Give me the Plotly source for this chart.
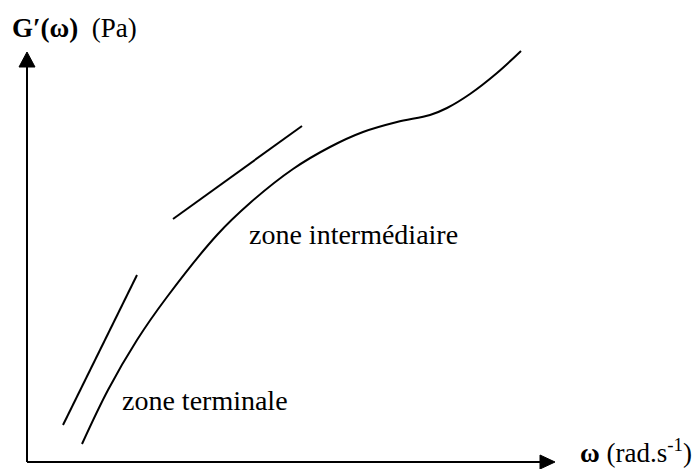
import plotly.graph_objects as go

# Schematic storage modulus G'(ω) versus ω (arbitrary log units, origin at axis corner)
curve_x = [55, 81, 110, 140, 190, 223, 266, 303, 336, 370, 403, 420, 443, 470, 494]
curve_y = [18, 72, 122, 165, 227, 259, 293, 315, 330, 340, 347, 354, 368, 389, 411]

# Slopes drawn next to the curve
terminal_x = [36, 110]
terminal_y = [37, 187]
intermediate_x = [146, 275]
intermediate_y = [243, 336]

# Axis extents
x_axis_end = 528
y_axis_end = 410

FONT = "Liberation Serif"
BLACK = "#000000"

fig = go.Figure()

# G'(ω) curve
fig.add_trace(go.Scatter(
    x=curve_x, y=curve_y, mode="lines",
    line=dict(color=BLACK, width=2, shape="spline", smoothing=1.0),
    hoverinfo="skip", showlegend=False))

# slope lines
for xs, ys in ((terminal_x, terminal_y), (intermediate_x, intermediate_y)):
    fig.add_trace(go.Scatter(
        x=xs, y=ys, mode="lines",
        line=dict(color=BLACK, width=2),
        hoverinfo="skip", showlegend=False))

# axes lines
fig.add_trace(go.Scatter(x=[0, 0], y=[0, y_axis_end - 12], mode="lines",
                         line=dict(color=BLACK, width=2),
                         hoverinfo="skip", showlegend=False))
fig.add_trace(go.Scatter(x=[0, x_axis_end - 12], y=[0, 0], mode="lines",
                         line=dict(color=BLACK, width=2),
                         hoverinfo="skip", showlegend=False))

# arrowheads
head_len, head_half = 15, 8
fig.add_trace(go.Scatter(
    x=[0, -head_half, head_half, 0],
    y=[y_axis_end, y_axis_end - head_len, y_axis_end - head_len, y_axis_end],
    mode="lines", fill="toself", fillcolor=BLACK,
    line=dict(color=BLACK, width=1), hoverinfo="skip", showlegend=False))
fig.add_trace(go.Scatter(
    x=[x_axis_end, x_axis_end - head_len, x_axis_end - head_len, x_axis_end],
    y=[0, head_half - 1, -(head_half - 1), 0],
    mode="lines", fill="toself", fillcolor=BLACK,
    line=dict(color=BLACK, width=1), hoverinfo="skip", showlegend=False))

labels = [
    (93, 62, "zone terminale", 28),
    (220, 228, "zone intermédiaire", 28),
    (-17, 434, "<b>G\u2032(ω)</b>\u00a0 (Pa)", 27),
    (551, 11, "<b>ω</b> (rad.s<sup>-1</sup>)", 27),
]
for x, y, t, size in labels:
    fig.add_annotation(x=x, y=y, text=t, showarrow=False,
                       xanchor="left", yanchor="middle",
                       font=dict(family=FONT, size=size, color=BLACK))

fig.update_xaxes(range=[-27, 666], visible=False, fixedrange=True)
fig.update_yaxes(range=[-7, 462], visible=False, fixedrange=True)
fig.update_layout(
    width=693, height=469,
    margin=dict(l=0, r=0, t=0, b=0),
    paper_bgcolor="white", plot_bgcolor="white",
    showlegend=False,
)

fig.write_html("out.html")
